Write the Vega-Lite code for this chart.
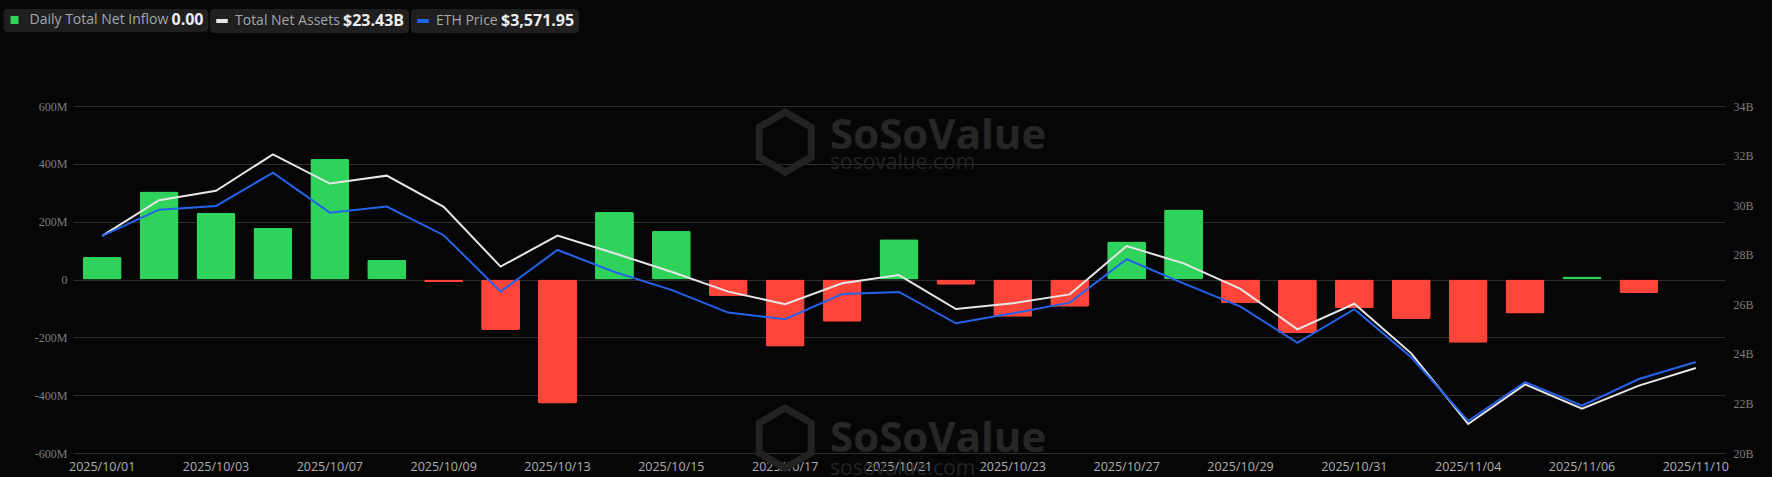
{
  "$schema": "https://vega.github.io/schema/vega-lite/v6.json",
  "width": 1652,
  "height": 347,
  "autosize": {"type": "none"},
  "padding": {"left": 73, "top": 106, "right": 47, "bottom": 24},
  "background": "#060606",
  "config": {
    "view": {"stroke": null},
    "axis": {"ticks": false, "domain": false, "title": null},
    "legend": {
      "orient": "none",
      "direction": "horizontal",
      "titleOrient": "right",
      "fillColor": "#1f1f1f",
      "cornerRadius": 4,
      "padding": 4,
      "labelFont": "Open Sans",
      "labelFontSize": 14,
      "labelColor": "#a3a6ad",
      "titleFont": "Open Sans",
      "titleFontSize": 16,
      "titleFontWeight": "bold",
      "titleColor": "#ececec",
      "titlePadding": 3,
      "titleBaseline": "middle"
    }
  },
  "datasets": {
    "flows": [
      {"date": "2025/10/01", "inflow": 78, "assets": 28.76, "eth": 4317},
      {"date": "2025/10/02", "inflow": 304, "assets": 30.20, "eth": 4472},
      {"date": "2025/10/03", "inflow": 231, "assets": 30.58, "eth": 4494},
      {"date": "2025/10/06", "inflow": 179, "assets": 32.05, "eth": 4690},
      {"date": "2025/10/07", "inflow": 417, "assets": 30.87, "eth": 4454},
      {"date": "2025/10/08", "inflow": 68, "assets": 31.19, "eth": 4490},
      {"date": "2025/10/09", "inflow": -8.5, "assets": 29.93, "eth": 4321},
      {"date": "2025/10/10", "inflow": -175, "assets": 27.52, "eth": 3988},
      {"date": "2025/10/13", "inflow": -429, "assets": 28.77, "eth": 4234},
      {"date": "2025/10/14", "inflow": 233, "assets": 28.06, "eth": 4104},
      {"date": "2025/10/15", "inflow": 168, "assets": 27.31, "eth": 3998},
      {"date": "2025/10/16", "inflow": -57, "assets": 26.51, "eth": 3864},
      {"date": "2025/10/17", "inflow": -232, "assets": 26.00, "eth": 3825},
      {"date": "2025/10/20", "inflow": -146, "assets": 26.85, "eth": 3974},
      {"date": "2025/10/21", "inflow": 139, "assets": 27.18, "eth": 3986},
      {"date": "2025/10/22", "inflow": -18, "assets": 25.81, "eth": 3801},
      {"date": "2025/10/23", "inflow": -129, "assets": 26.04, "eth": 3860},
      {"date": "2025/10/24", "inflow": -94, "assets": 26.40, "eth": 3923},
      {"date": "2025/10/27", "inflow": 131, "assets": 28.35, "eth": 4179},
      {"date": "2025/10/28", "inflow": 242, "assets": 27.65, "eth": 4037},
      {"date": "2025/10/29", "inflow": -82, "assets": 26.62, "eth": 3899},
      {"date": "2025/10/30", "inflow": -185, "assets": 24.99, "eth": 3686},
      {"date": "2025/10/31", "inflow": -99, "assets": 26.02, "eth": 3884},
      {"date": "2025/11/03", "inflow": -137, "assets": 24.02, "eth": 3600},
      {"date": "2025/11/04", "inflow": -219, "assets": 21.17, "eth": 3224},
      {"date": "2025/11/05", "inflow": -118, "assets": 22.77, "eth": 3454},
      {"date": "2025/11/06", "inflow": 10, "assets": 21.79, "eth": 3314},
      {"date": "2025/11/07", "inflow": -47, "assets": 22.72, "eth": 3472},
      {"date": "2025/11/10", "inflow": 0, "assets": 23.43, "eth": 3571.95}
    ],
    "wmBig": [
      {"date": "2025/10/20", "v": 451.7, "t": "SoSoValue"},
      {"date": "2025/10/20", "v": -596, "t": "SoSoValue"}
    ],
    "wmSmall": [
      {"date": "2025/10/20", "v": 382.8, "t": "sosovalue.com"},
      {"date": "2025/10/20", "v": -675, "t": "sosovalue.com"}
    ],
    "wmLogo": [
      {"date": "2025/10/17", "v": 475},
      {"date": "2025/10/17", "v": -548}
    ]
  },
  "encoding": {
    "x": {
      "field": "date",
      "type": "ordinal",
      "scale": {"paddingInner": 0.315, "paddingOuter": 0.17},
      "axis": {
        "values": ["2025/10/01", "2025/10/03", "2025/10/07", "2025/10/09", "2025/10/13", "2025/10/15", "2025/10/17", "2025/10/21", "2025/10/23", "2025/10/27", "2025/10/29", "2025/10/31", "2025/11/04", "2025/11/06", "2025/11/10"],
        "labelAngle": 0,
        "labelFont": "Open Sans",
        "labelFontSize": 12.5,
        "labelColor": "#b0b0b0",
        "labelPadding": 7,
        "grid": false
      }
    }
  },
  "layer": [
    {
      "data": {"name": "wmLogo"},
      "mark": {"type": "point", "shape": "M0,-1L0.866,-0.5L0.866,0.5L0,1L-0.866,0.5L-0.866,-0.5Z", "filled": false, "size": 3600, "strokeWidth": 7, "color": "#222222", "opacity": 1},
      "encoding": {
        "y": {"field": "v", "type": "quantitative", "scale": {"domain": [-600, 600], "nice": false}, "axis": null}
      }
    },
    {
      "data": {"name": "wmBig"},
      "mark": {"type": "text", "align": "left", "baseline": "alphabetic", "dx": -12, "font": "Open Sans", "fontSize": 42, "fontWeight": "bold", "color": "#262626"},
      "encoding": {
        "y": {"field": "v", "type": "quantitative", "scale": {"domain": [-600, 600], "nice": false}, "axis": null},
        "text": {"field": "t"}
      }
    },
    {
      "data": {"name": "wmSmall"},
      "mark": {"type": "text", "align": "left", "baseline": "alphabetic", "dx": -12, "font": "Open Sans", "fontSize": 21, "color": "#232323"},
      "encoding": {
        "y": {"field": "v", "type": "quantitative", "scale": {"domain": [-600, 600], "nice": false}, "axis": null},
        "text": {"field": "t"}
      }
    },
    {
      "data": {"name": "flows"},
      "transform": [{"calculate": "datum.inflow >= 0 ? 'Daily Total Net Inflow' : 'Outflow'", "as": "dir"}],
      "mark": {"type": "bar", "cornerRadius": 2},
      "encoding": {
        "y": {
          "field": "inflow",
          "type": "quantitative",
          "scale": {"domain": [-600, 600], "nice": false},
          "axis": {
            "orient": "left",
            "values": [-600, -400, -200, 0, 200, 400, 600],
            "labelExpr": "datum.value == 0 ? '0' : datum.value + 'M'",
            "labelFont": "Liberation Serif",
            "labelFontSize": 12,
            "labelColor": "#7d7d7d",
            "labelPadding": 6,
            "grid": true,
            "gridColor": "#2e2e2e",
            "gridWidth": 1
          }
        },
        "color": {
          "field": "dir",
          "type": "nominal",
          "scale": {"domain": ["Daily Total Net Inflow", "Outflow"], "range": ["#2fd25b", "#ff453a"]},
          "legend": {
            "values": ["Daily Total Net Inflow"],
            "title": "0.00",
            "legendX": -69.5,
            "legendY": -97,
            "symbolType": "square",
            "symbolSize": 64,
            "symbolStrokeWidth": 0,
            "labelOffset": 8
          }
        }
      }
    },
    {
      "data": {"name": "flows"},
      "mark": {"type": "line", "strokeWidth": 2},
      "encoding": {
        "y": {
          "field": "assets",
          "type": "quantitative",
          "scale": {"domain": [20, 34], "nice": false},
          "axis": {
            "orient": "right",
            "values": [20, 22, 24, 26, 28, 30, 32, 34],
            "labelExpr": "datum.value + 'B'",
            "labelFont": "Liberation Serif",
            "labelFontSize": 12,
            "labelColor": "#7d7d7d",
            "labelPadding": 8,
            "grid": false
          }
        },
        "stroke": {
          "datum": "Total Net Assets",
          "type": "nominal",
          "scale": {"range": ["#e6e6e6"]},
          "legend": {
            "title": "$23.43B",
            "legendX": 137,
            "legendY": -97,
            "symbolType": "stroke",
            "symbolSize": 134,
            "symbolStrokeWidth": 4,
            "labelOffset": 5
          }
        }
      }
    },
    {
      "data": {"name": "flows"},
      "mark": {"type": "line", "strokeWidth": 2},
      "encoding": {
        "y": {
          "field": "eth",
          "type": "quantitative",
          "scale": {"domain": [3035, 5084], "nice": false, "zero": false},
          "axis": null
        },
        "stroke": {
          "datum": "ETH Price",
          "type": "nominal",
          "scale": {"range": ["#2563eb"]},
          "legend": {
            "title": "$3,571.95",
            "legendX": 338,
            "legendY": -97,
            "symbolType": "stroke",
            "symbolSize": 134,
            "symbolStrokeWidth": 4,
            "labelOffset": 5
          }
        }
      }
    }
  ],
  "resolve": {
    "scale": {"y": "independent", "stroke": "independent"},
    "legend": {"stroke": "independent"}
  }
}
